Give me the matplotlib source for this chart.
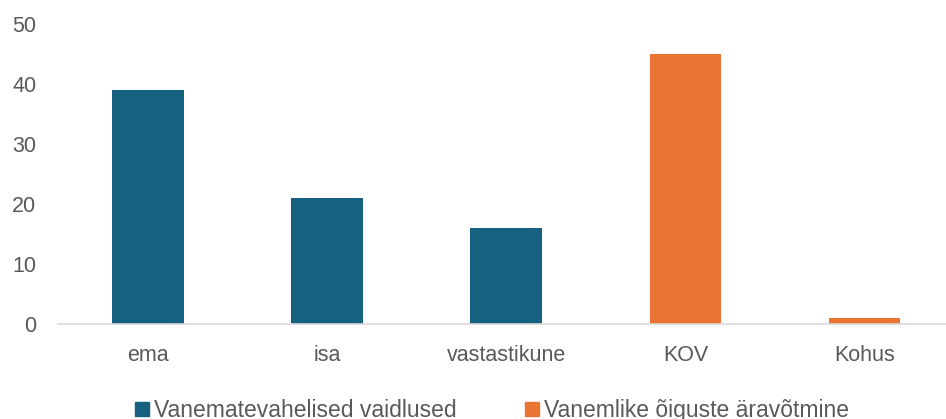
import matplotlib.pyplot as plt
from matplotlib.patches import Patch

# data
categories = ["ema", "isa", "vastastikune", "KOV", "Kohus"]
vaidlused_cats = ["ema", "isa", "vastastikune"]
vaidlused_vals = [39, 21, 16]
aravotmine_cats = ["KOV", "Kohus"]
aravotmine_vals = [45, 1]
y_ticks = [0, 10, 20, 30, 40, 50]

blue = "#166080"
orange = "#EA7434"
grey_text = "#595959"

plt.rcParams["font.family"] = ["Liberation Sans", "DejaVu Sans"]

fig = plt.figure(figsize=(9.46, 4.19), dpi=100)
ax = fig.add_axes([0.0617, 0.2267, 0.947, 0.716])

pos = {c: i for i, c in enumerate(categories)}
ax.bar([pos[c] for c in vaidlused_cats], vaidlused_vals, width=0.40, color=blue)
ax.bar([pos[c] for c in aravotmine_cats], aravotmine_vals, width=0.40, color=orange)

ax.set_xlim(-0.5, len(categories) - 0.5)
ax.set_ylim(0, 50)
ax.set_yticks(y_ticks)
ax.set_xticks(range(len(categories)))
ax.set_xticklabels(categories)

for s in ["top", "right", "left"]:
    ax.spines[s].set_visible(False)
ax.spines["bottom"].set_color("#D9D9D9")
ax.spines["bottom"].set_linewidth(1.2)
ax.tick_params(axis="both", length=0, labelsize=15.5, labelcolor=grey_text)
ax.tick_params(axis="y", pad=16)
ax.tick_params(axis="x", pad=15)

# legend sits at the very bottom edge like in the original export
handles = [Patch(color=blue, label="Vanematevahelised vaidlused"),
           Patch(color=orange, label="Vanemlike õiguste äravõtmine")]
fig.legend(handles=handles, loc="center", bbox_to_anchor=(0.52, 0.02), ncol=2,
           frameon=False, fontsize=16.5, labelcolor=grey_text,
           handlelength=0.62, handleheight=0.62, handletextpad=0.2, columnspacing=3.0)

fig.savefig("out.png", dpi=100)
